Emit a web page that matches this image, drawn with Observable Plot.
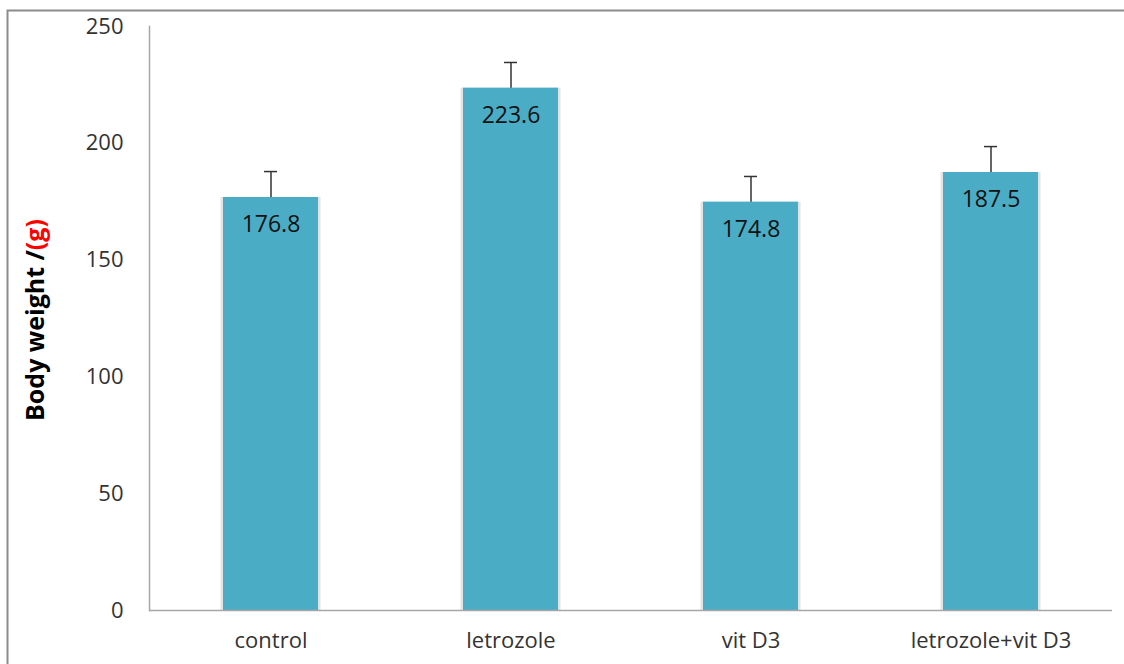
<!DOCTYPE html>
<html>
<head>
<meta charset="utf-8">
<script src="https://cdn.jsdelivr.net/npm/d3@7"></script>
<script src="https://cdn.jsdelivr.net/npm/@observablehq/plot@0.6"></script>
<style>
  html, body { margin: 0; padding: 0; background: #fff; }
  #chart svg { display: block; }
</style>
</head>
<body>
<div id="chart"></div>
<script>
const groups = ["control", "letrozole", "vit D3", "letrozole+vit D3"];
const means = [176.8, 223.6, 174.8, 187.5];
const errors = [11.1, 11.0, 11.0, 11.1];
const yTicks = [0, 50, 100, 150, 200, 250];

const data = groups.map((g, i) => ({group: g, mean: means[i], err: errors[i], top: means[i] + errors[i]}));

const font = "'Open Sans', sans-serif";
const barColor = "#4BACC6";

const chart = Plot.plot({
  width: 1124,
  height: 664,
  marginLeft: 149,
  marginRight: 12,
  marginTop: 26,
  marginBottom: 54,
  style: {fontFamily: font, fontSize: "22px", background: "white"},
  x: {domain: groups, paddingInner: 0.605, paddingOuter: 0.3025, label: null},
  y: {domain: [0, 250], ticks: yTicks, label: null},
  marks: [
    Plot.frame({anchor: "left", stroke: "#a6a6a6", strokeWidth: 1.5}),
    Plot.barY(data, {x: "group", y: "mean", fill: "#e3e3e3", insetLeft: -2.5, insetRight: -2.5}),
    Plot.barY(data, {x: "group", y: "mean", fill: barColor}),
    Plot.ruleX(data, {x: "group", y1: "mean", y2: "top", stroke: "#333", strokeWidth: 1.5}),
    Plot.tickY(data, {x: "group", y: "top", stroke: "#333", strokeWidth: 1.5, insetLeft: 41, insetRight: 41}),
    Plot.text(data, {x: "group", y: "mean", text: d => d.mean.toFixed(1), dy: 27, fill: "#111", fontSize: 23, textAnchor: "middle", lineAnchor: "middle"}),
    Plot.ruleY([0], {stroke: "#a6a6a6", strokeWidth: 1.5}),
    Plot.axisY({ticks: yTicks, tickSize: 0, tickPadding: 26, fontSize: 22, fill: "#333", label: null}),
    Plot.axisX({tickSize: 0, tickPadding: 22, fontSize: 22, fill: "#333", label: null})
  ]
});

document.getElementById("chart").appendChild(chart);

const svg = d3.select(chart);
// outer chart-area border (top and left only visible)
svg.append("rect")
  .attr("x", 7.5).attr("y", 10.5)
  .attr("width", 1130).attr("height", 700)
  .attr("fill", "none").attr("stroke", "#8c8c8c").attr("stroke-width", 2);

const title = svg.append("text")
  .attr("transform", "translate(44,320) rotate(-90)")
  .attr("text-anchor", "middle")
  .attr("font-family", font)
  .attr("font-size", 25)
  .attr("font-weight", "bold")
  .attr("fill", "#000");
title.append("tspan").text("Body weight /");
title.append("tspan").attr("fill", "#ff0000").text("(g)");
</script>
</body>
</html>
